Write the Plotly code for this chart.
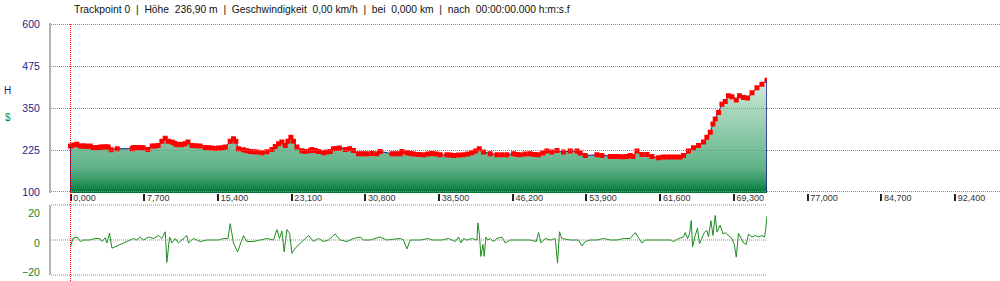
import plotly.graph_objects as go

# ---------------- data ----------------
DIST_KM = [0.00, 0.35, 0.67, 1.01, 1.30, 1.54, 1.80, 2.06, 2.37, 2.63, 2.89, 3.15, 3.42, 3.68, 3.94, 4.25, 4.88,
           6.45, 6.55, 6.80, 7.07, 7.33, 7.60, 8.09, 8.54, 8.85, 9.16, 9.55, 9.90, 10.21, 10.60, 10.86, 11.12,
           11.38, 11.64, 11.95, 12.27, 12.69, 13.10, 13.55, 14.08, 14.43, 14.78, 15.12, 15.47, 15.82, 16.17,
           16.69, 17.03, 17.28, 17.56, 18.08, 18.43, 18.78, 19.13, 19.48, 20.00, 20.52, 21.05, 21.40, 21.74,
           22.09, 22.44, 22.72, 23.03, 23.30, 23.66, 24.18, 24.53, 25.05, 25.23, 25.58, 25.92, 26.44, 26.79,
           27.14, 27.48, 27.80, 28.11, 28.71, 29.16, 29.57, 30.10, 30.53, 30.97, 31.50, 32.02, 32.36, 33.59,
           34.02, 34.45, 34.63, 35.15, 35.50, 35.84, 36.37, 36.89, 37.33, 37.77, 38.20, 38.63, 39.33, 39.67,
           40.02, 40.55, 41.07, 41.51, 41.95, 42.33, 42.71, 43.16, 43.86, 44.56, 45.08, 45.60, 46.29, 46.64,
           46.99, 47.51, 48.04, 48.47, 48.91, 49.35, 49.78, 50.31, 50.83, 51.52, 52.22, 52.92, 53.26, 53.79,
           55.01, 55.53, 56.40, 56.82, 57.24, 57.70, 58.15, 58.49, 58.77, 59.19, 59.71, 60.23, 60.76, 61.45,
           61.94, 62.36, 62.78, 63.25, 63.71, 64.06, 64.58, 65.10, 65.63, 66.15, 66.50, 66.85, 67.13, 67.37,
           67.72, 68.07, 68.42, 68.76, 69.12, 69.57, 69.91, 70.33, 70.75, 71.21, 71.73, 72.25, 72.78]
ELEV_M = [236.9, 240, 242, 237, 237, 237, 236, 237, 233, 232, 233, 234, 234, 235, 234, 226, 229,
          229, 232, 233, 232, 233, 232, 227, 237, 237, 239, 251, 260, 251, 249, 245, 241,
          242, 241, 244, 249, 239, 238, 237, 233, 232, 231, 230, 231, 232, 234,
          251, 259, 251, 229, 226, 223, 221, 220, 219, 217, 220, 227, 236, 244,
          249, 239, 251, 263, 251, 234, 223, 221, 223, 227, 224, 221, 217, 219,
          221, 229, 230, 231, 227, 229, 224, 214, 214, 214, 215, 214, 221, 214,
          214, 214, 221, 217, 215, 213, 212, 211, 213, 215, 213, 211, 211, 210,
          209, 210, 211, 213, 217, 222, 229, 219, 214, 211, 211, 211, 214, 212,
          211, 213, 214, 212, 211, 216, 222, 219, 224, 219, 222, 222, 216, 209,
          211, 209, 206, 206, 206, 205, 206, 209, 206, 222, 212, 212, 206, 202,
          204, 204, 204, 204, 204, 209, 222, 232, 239, 249, 263, 278, 303, 318,
          337, 362, 370, 387, 384, 374, 387, 382, 380, 396, 411, 421, 433]

SLOPE_DIST_KM = [0.00, 0.25, 0.73, 1.01, 1.30, 1.99, 2.58, 3.03, 3.28, 3.63, 3.80, 4.08, 4.33, 6.58, 6.94,
                 7.28, 7.63, 8.15, 8.67, 9.20, 9.55, 9.90, 10.07, 10.35, 10.60, 10.94, 11.29, 11.81, 12.16,
                 12.33, 12.85, 13.55, 14.25, 14.94, 15.47, 15.99, 16.45, 16.69, 17.03, 17.45, 18.08, 18.43,
                 19.12, 19.82, 20.52, 21.21, 21.57, 21.84, 22.09, 22.33, 22.61, 22.89, 23.14, 23.48, 24.00,
                 24.53, 24.87, 25.39, 25.92, 26.44, 26.96, 27.66, 28.18, 28.88, 29.57, 30.27, 30.62, 31.32,
                 32.36, 33.06, 34.45, 34.80, 35.15, 35.50, 36.54, 37.41, 37.77, 38.81, 39.50, 40.20, 40.55,
                 40.80, 41.07, 41.42, 41.95, 42.47, 42.57, 42.74, 42.88, 43.10, 43.23, 43.41, 43.58, 43.86,
                 44.20, 44.56, 45.08, 45.43, 45.95, 46.65, 48.04, 48.67, 48.91, 49.16, 49.61, 50.13, 50.65,
                 50.89, 51.10, 51.35, 52.22, 53.09, 53.44, 53.79, 54.31, 55.01, 55.70, 56.40, 57.10, 57.79,
                 58.49, 59.01, 59.36, 59.71, 60.06, 60.58, 61.28, 61.97, 62.67, 63.02, 63.54, 64.06, 64.23,
                 64.48, 64.69, 64.86, 65.00, 65.28, 65.52, 65.73, 65.98, 66.22, 66.50, 66.67, 66.92, 67.13,
                 67.37, 67.55, 67.89, 68.18, 68.42, 68.76, 69.12, 69.36, 69.57, 69.80, 70.06, 70.33, 70.61,
                 70.85, 71.21, 71.55, 71.90, 72.25, 72.52, 72.63, 72.78]
SLOPE_PCT = [-4.5, 1, 2, -1, 0, 0, 1, 1, -1, 1.5, -2, 4.5, -5.5, 1, 0,
             2, 0, 2, 1, 3, 1, 5.5, -15, 2, -2, 1, -2, 1, 3,
             -2, 1, -1, 0, 0, 0, 1, 1, 11, -2, -8, 3, -1,
             -1, 0, 1, 0, 7, 1, 6, -8, 7, 4.5, -9, -5.5, -2,
             1, 3, -1, 1, -1, 0, 4, 0, -1, 1, 2, 0, 0,
             2, 0, 1, 0, -6, 0, 0, 1, 0, 0, 1, -1, 2,
             -2, 1, 0, 1, 0, 11.5, 3, -11, -3, -11, 2, 0, 1,
             -1, 1, 2, -2, 0, 0, 0, -1, 5, -2, 1, 0, 1,
             -15.5, 5.5, 1, 0, 0, -4, -1, 0, 0, 1, 0, 0, 1,
             1, 5, 1, -2, 0, 0, 0, 0, 0, -1, 1, 2, 5,
             1, 4.5, 13, -4.5, 3, 8, -2.5, 2, 5, 6.5, 2, 13, 3,
             16.5, 5.5, 10, 4, 5, 3, 1, -3, -11.5, 4.5, 1, -2, -3,
             4, 2, 3, 2, 3, 2, 6.5, 16]

ELEV_TICKS = [100, 225, 350, 475, 600]
SLOPE_TICKS = [-20, 0, 20]
DIST_TICKS_KM = [0.0, 7.7, 15.4, 23.1, 30.8, 38.5, 46.2, 53.9, 61.6, 69.3, 77.0, 84.7, 92.4]

HEADER = ("Trackpoint 0\u00a0 |\u00a0 Höhe\u00a0 236,90 m\u00a0 |\u00a0 Geschwindigkeit\u00a0 0,00 km/h"
          "\u00a0 |\u00a0 bei\u00a0 0,000 km\u00a0 |\u00a0 nach\u00a0 00:00:00.000 h:m:s.f")

# ---------------- layout constants ----------------
KM_PER_PX = 0.10447
X_MIN = -19.5 * KM_PER_PX
X_MAX = DIST_KM[-1]
X3_MAX = X_MIN + 949 * KM_PER_PX
Y_RANGE = [97, 603]
S_RANGE = [-23.5, 23.5]
FONT = "Liberation Sans, Arial, sans-serif"
GRID = "#8c8c8c"

fig = go.Figure()

fig.add_trace(go.Scatter(
    x=DIST_KM, y=ELEV_M, mode="lines+markers", xaxis="x", yaxis="y",
    line=dict(color="#1c1c8c", width=1),
    marker=dict(symbol="square", size=5, color="#ff0000", line=dict(width=0)),
    fill="tozeroy",
    fillgradient=dict(type="vertical", start=100, stop=600,
                      colorscale=[[0.0, "#03763a"], [0.06, "#2e9660"], [0.14, "#5fb186"],
                                  [0.25, "#78be99"], [0.5, "#acd8be"], [0.66, "#d2ebdc"],
                                  [1.0, "#f4faf6"]]),
    showlegend=False, hoverinfo="skip"))

fig.add_trace(go.Scatter(
    x=SLOPE_DIST_KM, y=SLOPE_PCT, mode="lines", xaxis="x2", yaxis="y2",
    line=dict(color="#1f8c1f", width=1),
    showlegend=False, hoverinfo="skip"))

# empty trace to create the extended distance axis
fig.add_trace(go.Scatter(x=[], y=[], xaxis="x3", yaxis="y", showlegend=False, hoverinfo="skip"))

shapes = [
    # dotted frame lines of the lower chart
    dict(type="line", xref="x2 domain", yref="y2 domain", x0=0, x1=1, y0=1, y1=1,
         line=dict(color=GRID, width=1, dash="1px,1px")),
    dict(type="line", xref="x2 domain", yref="y2", x0=0, x1=1, y0=0, y1=0,
         line=dict(color=GRID, width=1, dash="1px,1px")),
    dict(type="line", xref="x2 domain", yref="y2 domain", x0=0, x1=1, y0=0, y1=0,
         line=dict(color=GRID, width=1, dash="1px,1px")),
    # closing edges of the elevation area
    dict(type="line", xref="x", yref="y", x0=DIST_KM[-1], x1=DIST_KM[-1], y0=ELEV_TICKS[0], y1=ELEV_M[-1],
         line=dict(color="#1c1c8c", width=1.5)),
    dict(type="line", xref="x", yref="y", x0=DIST_KM[0], x1=DIST_KM[0], y0=ELEV_TICKS[0], y1=ELEV_M[0],
         line=dict(color="#1c1c8c", width=1)),
    # red cursor line
    dict(type="line", xref="x", yref="paper", x0=DIST_KM[0], x1=DIST_KM[0], y0=0.0, y1=1 - 24 / 281,
         line=dict(color="#ff0000", width=1, dash="1px,1px")),
]

annotations = [
    dict(text=HEADER, xref="paper", yref="paper", x=0.072, y=1 - 10 / 281, xanchor="left", yanchor="middle",
         showarrow=False, font=dict(family=FONT, size=10.3, color="#111111")),
    dict(text="H", xref="paper", yref="paper", x=0.0075, y=1 - 90 / 281, xanchor="center", yanchor="middle",
         showarrow=False, font=dict(family=FONT, size=10, color="#1c1c8c")),
    dict(text="$", xref="paper", yref="paper", x=0.0075, y=1 - 117 / 281, xanchor="center", yanchor="middle",
         showarrow=False, font=dict(family=FONT, size=10, color="#1a8a1a")),
]

fig.update_layout(
    width=1000, height=281,
    margin=dict(l=0, r=0, t=0, b=0, pad=0, autoexpand=False),
    paper_bgcolor="white", plot_bgcolor="rgba(0,0,0,0)",
    separators=",.",
    font=dict(family=FONT, size=11),
    shapes=shapes, annotations=annotations,
    xaxis=dict(domain=[0.051, 0.767], range=[X_MIN, X_MAX], anchor="y", automargin=False,
               showgrid=False, zeroline=False, showticklabels=False, ticks="", showline=False),
    yaxis=dict(domain=[1 - 193 / 281, 1 - 23.3 / 281], range=Y_RANGE, anchor="x", automargin=False,
               tickmode="array", tickvals=ELEV_TICKS, ticks="",
               tickfont=dict(family=FONT, size=10.5, color="#22228f"), ticklabelstandoff=7,
               showgrid=True, gridcolor=GRID, griddash="1px,1px", gridwidth=1,
               zeroline=False, showline=True, linecolor="#b4b4b4", linewidth=2),
    xaxis2=dict(domain=[0.051, 0.767], range=[X_MIN, X_MAX], anchor="y2", automargin=False,
                showgrid=False, zeroline=False, showticklabels=False, ticks="", showline=False),
    yaxis2=dict(domain=[1 - 275 / 281, 1 - 205 / 281], range=S_RANGE, anchor="x2", automargin=False,
                tickmode="array", tickvals=SLOPE_TICKS, ticks="",
                tickfont=dict(family=FONT, size=10.5, color="#1a801a"), ticklabelstandoff=7,
                ticklabelshift=3,
                showgrid=False, zeroline=False, showline=True, linecolor="#b4b4b4", linewidth=2),
    xaxis3=dict(domain=[0.051, 1.0], range=[X_MIN, X3_MAX], anchor="y", side="bottom", automargin=False,
                tickmode="array", tickvals=DIST_TICKS_KM, tickformat=".3f",
                ticks="outside", ticklen=7, tickwidth=1.5, tickcolor="#222222",
                ticklabelposition="outside right", ticklabelstandoff=-4, ticklabelshift=2,
                tickfont=dict(family=FONT, size=9, color="#333333"),
                showgrid=False, zeroline=False, showline=False),
)

fig.write_html("out.html")
